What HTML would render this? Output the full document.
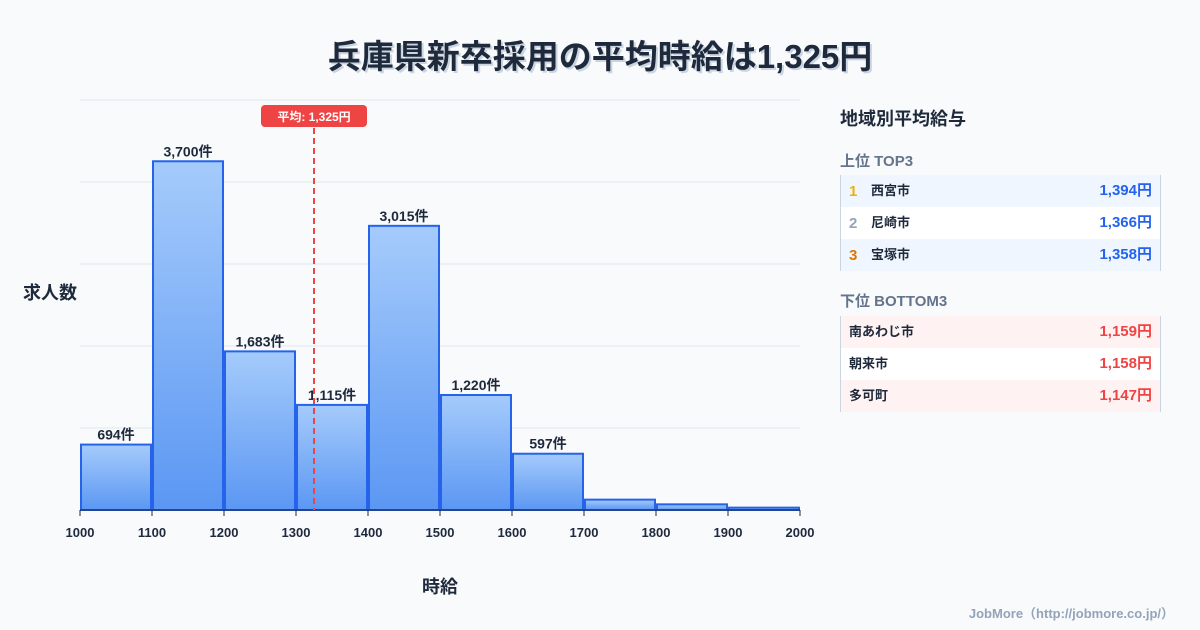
<!DOCTYPE html>
<html><head><meta charset="utf-8">
<style>
html,body{margin:0;padding:0;width:1200px;height:630px;background:#f8fafc;overflow:hidden}
body{font-family:"Liberation Sans","Noto Sans CJK JP",sans-serif;color:#1e293b;position:relative}
.title{position:absolute;left:0;width:1200px;top:30px;text-align:center;font-size:33px;font-weight:bold;color:#1e293b;text-shadow:2px 2px 0 #cbd5e1}
.panel{position:absolute;left:840px;top:100px;width:320px}
.ph{font-size:18px;font-weight:bold;position:absolute;top:5px;left:0}
.sub{position:absolute;left:0;font-size:15px;font-weight:bold;color:#64748b}
.tbl{position:absolute;left:0;width:319px;border-left:1px solid #cbd5e1;border-right:1px solid #cbd5e1}
.row{height:32px;position:relative;font-size:13px;font-weight:bold}
.row .rk{position:absolute;left:8px;top:8px;font-size:15px;line-height:17px}
.row .nm{position:absolute;top:7px;line-height:18px}
.row .v{position:absolute;right:8px;top:7px;font-size:15px;line-height:18px}
.foot{position:absolute;right:26px;top:603px;font-size:13px;color:#94a3b8;font-weight:bold}
</style></head><body>
<div class="title">兵庫県新卒採用の平均時給は1,325円</div>
<svg id="chart" width="1200" height="630" style="position:absolute;left:0;top:0">
<defs><linearGradient id="g" x1="0" y1="0" x2="0" y2="1"><stop offset="0" stop-color="#a5cbfb"/><stop offset="1" stop-color="#5b97f3"/></linearGradient></defs>
</svg>
<div class="panel">
<div class="ph">地域別平均給与</div>
<div class="sub" style="top:50px">上位 TOP3</div>
<div class="tbl" style="top:75px">
<div class="row" style="background:#eff6ff"><span class="rk" style="color:#eab308">1</span><span class="nm" style="left:30px">西宮市</span><span class="v" style="color:#2563eb">1,394円</span></div>
<div class="row" style="background:#fff"><span class="rk" style="color:#94a3b8">2</span><span class="nm" style="left:30px">尼崎市</span><span class="v" style="color:#2563eb">1,366円</span></div>
<div class="row" style="background:#eff6ff"><span class="rk" style="color:#d97706">3</span><span class="nm" style="left:30px">宝塚市</span><span class="v" style="color:#2563eb">1,358円</span></div>
</div>
<div class="sub" style="top:190px">下位 BOTTOM3</div>
<div class="tbl" style="top:216px">
<div class="row" style="background:#fef2f2"><span class="nm" style="left:8px">南あわじ市</span><span class="v" style="color:#ef4444">1,159円</span></div>
<div class="row" style="background:#fff"><span class="nm" style="left:8px">朝来市</span><span class="v" style="color:#ef4444">1,158円</span></div>
<div class="row" style="background:#fef2f2"><span class="nm" style="left:8px">多可町</span><span class="v" style="color:#ef4444">1,147円</span></div>
</div>
</div>
<div class="foot">JobMore（http://jobmore.co.jp/）</div>
<script>
const binStarts=[1000,1100,1200,1300,1400,1500,1600,1700,1800,1900];
const counts=[694,3700,1683,1115,3015,1220,597,110,60,25];
const countLabels=["694件","3,700件","1,683件","1,115件","3,015件","1,220件","597件","","",""];
const xTicks=[1000,1100,1200,1300,1400,1500,1600,1700,1800,1900,2000];
const meanValue=1325;
const meanLabel="平均: 1,325円";
const yMax=4350, yGridStep=870;
const X0=80,X1=800,Y0=510,Y1=100;
const xs=v=>X0+(v-1000)/(2000-1000)*(X1-X0);
const ys=v=>Y0-v/yMax*(Y0-Y1);
const svg=document.getElementById('chart');
const NS='http://www.w3.org/2000/svg';
function mk(t,a,txt){const e=document.createElementNS(NS,t);for(const k in a)e.setAttribute(k,a[k]);if(txt!==undefined)e.textContent=txt;svg.appendChild(e);return e;}
for(let v=0;v<=yMax+1;v+=yGridStep){
  const l=mk('line',{x1:X0,x2:X1,y1:ys(v),y2:ys(v),stroke:'#e2e8f0','stroke-width':1});
  
  
}
binStarts.forEach((b,i)=>{
  const x=xs(b)+1,w=xs(b+100)-xs(b)-2,y=ys(counts[i]),h=Y0-y;
  const r=mk('rect',{x:x,y:y,width:w,height:Math.max(h,1),fill:'url(#g)',stroke:'#2563eb','stroke-width':2});
  
  
  if(countLabels[i]){
    const t=mk('text',{x:x+w/2,y:y-5,'text-anchor':'middle','font-size':14,'font-weight':'bold',fill:'#1e293b'},countLabels[i]);
    
    
  }
});
const ax=mk('line',{x1:X0,x2:X1,y1:Y0,y2:Y0,stroke:'#1e293b','stroke-width':1});


xTicks.forEach(v=>{
  const tk=mk('line',{x1:xs(v),x2:xs(v),y1:Y0,y2:Y0+6,stroke:'#1e293b','stroke-width':1});
  
  
  const t=mk('text',{x:xs(v),y:537,'text-anchor':'middle','font-size':13,'font-weight':'bold',fill:'#1e293b'},String(v));
  
  
});
const ml=mk('line',{x1:xs(meanValue),x2:xs(meanValue),y1:128,y2:Y0,stroke:'#ef4444','stroke-width':2,'stroke-dasharray':'6,4'});


const mb=mk('rect',{x:xs(meanValue)-53,y:105,width:106,height:22,rx:4,fill:'#ef4444'});


const mt=mk('text',{x:xs(meanValue),y:121,'text-anchor':'middle','font-size':12,'font-weight':'bold',fill:'#fff'},meanLabel);


const yt=mk('text',{x:50,y:299,'text-anchor':'middle','font-size':18,'font-weight':'bold',fill:'#1e293b'},'求人数');


const xt=mk('text',{x:440,y:593,'text-anchor':'middle','font-size':18,'font-weight':'bold',fill:'#1e293b'},'時給');


</script>
</body></html>
